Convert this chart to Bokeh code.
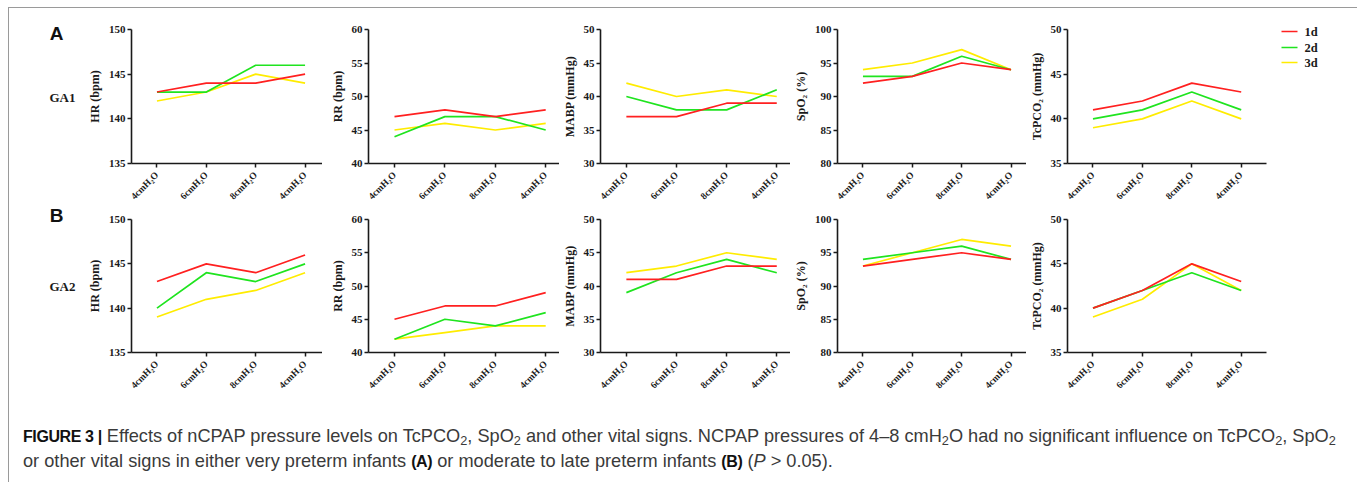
from math import pi
from bokeh.plotting import figure
from bokeh.models import Range1d, FixedTicker, Div
from bokeh.layouts import row, column
from bokeh.embed import file_html
from bokeh.resources import INLINE
from bokeh.core.properties import value

# ---------------- data ----------------
pressures = ["4cmH\u2082O", "6cmH\u2082O", "8cmH\u2082O", "4cmH\u2082O"]
days = ["1d", "2d", "3d"]
day_colors = ["#ff2020", "#1fe41f", "#ffec00"]

hr_ticks = [135, 140, 145, 150]
rr_ticks = [40, 45, 50, 55, 60]
mabp_ticks = [30, 35, 40, 45, 50]
spo2_ticks = [80, 85, 90, 95, 100]
tcpco2_ticks = [35, 40, 45, 50]

ylabels = ["HR (bpm)", "RR (bpm)", "MABP (mmHg)", "SpO\u2082 (%)", "TcPCO\u2082 (mmHg)"]
row_labels = ["A", "B"]
group_labels = ["GA1", "GA2"]

# GA1 (A) : rows = 1d, 2d, 3d
ga1_hr = [[143, 144, 144, 145], [143, 143, 146, 146], [142, 143, 145, 144]]
ga1_rr = [[47, 48, 47, 48], [44, 47, 47, 45], [45, 46, 45, 46]]
ga1_mabp = [[37, 37, 39, 39], [40, 38, 38, 41], [42, 40, 41, 40]]
ga1_spo2 = [[92, 93, 95, 94], [93, 93, 96, 94], [94, 95, 97, 94]]
ga1_tcpco2 = [[41, 42, 44, 43], [40, 41, 43, 41], [39, 40, 42, 40]]

# GA2 (B)
ga2_hr = [[143, 145, 144, 146], [140, 144, 143, 145], [139, 141, 142, 144]]
ga2_rr = [[45, 47, 47, 49], [42, 45, 44, 46], [42, 43, 44, 44]]
ga2_mabp = [[41, 41, 43, 43], [39, 42, 44, 42], [42, 43, 45, 44]]
ga2_spo2 = [[93, 94, 95, 94], [94, 95, 96, 94], [93, 95, 97, 96]]
ga2_tcpco2 = [[40, 42, 45, 43], [40, 42, 44, 42], [39, 41, 45, 42]]

# ---------------- layout constants (page pixels) ----------------
SERIF = "Liberation Serif"
SANS = "Liberation Sans"
X0, Y0 = 9, 8
RIGHT_EDGE = 1354
# (fig_left, frame_left, frame_right, fig_right)
cols = [
    (84, 127, 322, 322),
    (322, 368, 559, 559),
    (559, 599, 790, 790),
    (790, 833, 1026, 1026),
    (1026, 1063, 1266, 1268),
]
FIRST_OFF = 26.0
SPACING = 50.4
rows_geo = [  # (min_border_top, frame_height, min_border_bottom)
    (21, 134, 50),
    (6, 133, 50),
]
# legend layout (page pixels)
LEG_X0, LEG_X1, LEG_TX = 1281, 1297, 1304
LEG_Y = [31, 47, 62]

xs = list(range(len(pressures)))


def panel(ylabel, ticks, series, colgeo, rowgeo):
    fl, fx0, fx1, fr = colgeo
    top, fh, bot = rowgeo
    start = -FIRST_OFF / SPACING
    end = start + (fx1 - fx0) / SPACING
    p = figure(width=fr - fl, height=top + fh + bot,
               x_range=Range1d(start, end),
               y_range=Range1d(ticks[0], ticks[-1]),
               output_backend="svg", toolbar_location=None,
               min_border_left=fx0 - fl, min_border_right=fr - fx1,
               min_border_top=top, min_border_bottom=bot)
    p.grid.visible = False
    p.outline_line_color = None
    p.background_fill_color = "white"
    p.border_fill_color = "white"

    for vals, color in reversed(list(zip(series, day_colors))):
        p.line(xs, vals, line_color=color, line_width=1.7)

    p.xaxis.ticker = FixedTicker(ticks=xs)
    p.xaxis.major_label_overrides = {x: lab for x, lab in zip(xs, pressures)}
    p.xaxis.major_label_orientation = pi / 4
    p.yaxis.ticker = FixedTicker(ticks=ticks)
    for ax in (p.xaxis[0], p.yaxis[0]):
        ax.axis_line_width = 1.6
        ax.axis_line_color = "#1a1a1a"
        ax.major_tick_line_color = "#1a1a1a"
        ax.major_tick_line_width = 1.5
        ax.major_tick_in = 0
        ax.major_tick_out = 4
        ax.minor_tick_line_color = None
        ax.major_label_text_font = SERIF
        ax.major_label_text_font_style = "bold"
        ax.major_label_text_color = "#1a1a1a"
    p.yaxis.major_label_standoff = 2
    p.xaxis.major_label_standoff = 6
    p.yaxis.major_label_text_font_size = "11px"
    p.xaxis.major_label_text_font_size = "9.5px"
    p.yaxis.axis_label = ylabel
    p.yaxis.axis_label_text_font = SERIF
    p.yaxis.axis_label_text_font_style = "bold"
    p.yaxis.axis_label_text_font_size = "12px"
    p.yaxis.axis_label_text_color = "#1a1a1a"
    p.yaxis.axis_label_standoff = 4
    return p


def blank_fig(x_left, x_right, height):
    f = figure(width=x_right - x_left, height=height,
               x_range=Range1d(x_left, x_right), y_range=Range1d(Y0 + height, Y0),
               output_backend="svg", toolbar_location=None,
               x_axis_location=None, y_axis_location=None, min_border=0)
    f.grid.visible = False
    f.outline_line_color = None
    return f


ga_data = [
    [ga1_hr, ga1_rr, ga1_mabp, ga1_spo2, ga1_tcpco2],
    [ga2_hr, ga2_rr, ga2_mabp, ga2_spo2, ga2_tcpco2],
]
all_ticks = [hr_ticks, rr_ticks, mabp_ticks, spo2_ticks, tcpco2_ticks]

row_figs = []
for r, data in enumerate(ga_data):
    figs = [panel(ylabels[c], all_ticks[c], data[c], cols[c], rows_geo[r]) for c in range(5)]
    row_figs.append(row(*figs))

total_h = sum(t + f + b for t, f, b in rows_geo)

# left: panel letters and group labels
lf = blank_fig(X0, cols[0][0], total_h)
lf.text(x=[56, 56], y=[33, 215], text=row_labels, text_font=value(SANS),
        text_font_style="bold", text_font_size="19px", text_align="center",
        text_baseline="middle", text_color="#111111")
lf.text(x=[62, 62], y=[97, 286], text=group_labels, text_font=value(SERIF),
        text_font_style="bold", text_font_size="13px", text_align="center",
        text_baseline="middle", text_color="#1a1a1a")

# right: legend
lg = blank_fig(cols[-1][3], RIGHT_EDGE, total_h)
n = len(days)
lg.segment(x0=[LEG_X0] * n, y0=LEG_Y, x1=[LEG_X1] * n, y1=LEG_Y,
           line_color=day_colors, line_width=1.7)
lg.text(x=[LEG_TX] * n, y=LEG_Y, text=days, text_font=value(SERIF),
        text_font_style="bold", text_font_size="12.5px", text_align="left",
        text_baseline="middle", text_color="#1a1a1a")

sub = '<sub style="font-size:70%;line-height:0;vertical-align:-0.2em">2</sub>'
bold = '<b style="font-size:16px;letter-spacing:-0.4px;color:#111">'
cap_html = (
    '<div style="font-family:\'Liberation Sans\',Arial,sans-serif;'
    'font-size:18.2px;line-height:25px;color:#3a3a3a;white-space:nowrap;'
    'margin:17px 0 0 9px;">'
    + bold + 'FIGURE 3 |</b> Effects of nCPAP pressure levels on TcPCO' + sub +
    ', SpO' + sub + ' and other vital signs. NCPAP pressures of 4\u20138 cmH' + sub +
    'O had no significant influence on TcPCO' + sub + ', SpO' + sub + '<br>'
    'or other vital signs in either very preterm infants ' + bold + '(A)</b> or moderate to late '
    'preterm infants ' + bold + '(B)</b> (<i>P</i> &gt; 0.05).</div>'
)
cap = Div(text=cap_html, width=RIGHT_EDGE - X0, height=74)

page = column(row(lf, column(*row_figs), lg), cap,
              styles={"border": "1px solid #9a9a9a", "margin": "7px 0 0 8px"})

open("out.html", "w").write(file_html(page, INLINE))
